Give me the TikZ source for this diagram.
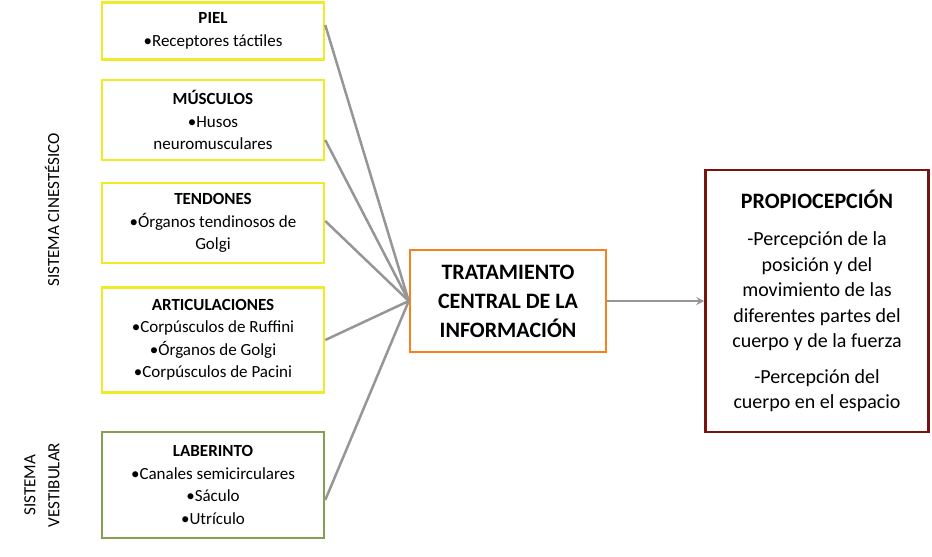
\documentclass[tikz,border=0pt]{standalone}
\usepackage{fontspec}
\setmainfont{Carlito}
\usetikzlibrary{positioning}
\definecolor{boxyellow}{RGB}{240,235,40}
\definecolor{boxgreen}{RGB}{130,160,80}
\definecolor{boxorange}{RGB}{245,130,30}
\definecolor{boxred}{RGB}{120,20,15}
\definecolor{linegray}{RGB}{150,150,150}
\begin{document}
\begin{tikzpicture}[x=1pt, y=-1pt, thick,
  sense box/.style={draw=boxyellow, line width=2.5pt, minimum width=222pt, align=center,
    font=\fontsize{17}{22.5}\selectfont, inner sep=0pt},
  link/.style={draw=linegray, line width=2.5pt}]
\useasboundingbox (0,0) rectangle (932,557);

\node[sense box, minimum height=57pt] (piel) at (213,31) {\textbf{PIEL}\\•Receptores táctiles};
\node[sense box, minimum height=80pt] (musc) at (213,120) {\textbf{MÚSCULOS}\\•Husos\\neuromusculares};
\node[sense box, minimum height=80pt] (tend) at (213,223) {\textbf{TENDONES}\\•Órganos tendinosos de\\Golgi};
\node[sense box, minimum height=105pt] (artic) at (213,340) {\textbf{ARTICULACIONES}\\•Corpúsculos de Ruffini\\•Órganos de Golgi\\•Corpúsculos de Pacini};
\node[sense box, draw=boxgreen, minimum height=106pt] (lab) at (213,485) {\textbf{LABERINTO}\\•Canales semicirculares\\•Sáculo\\•Utrículo};

\node[draw=boxorange, line width=2.5pt, minimum width=196pt, minimum height=102pt, align=center,
  font=\fontsize{22}{29}\selectfont\bfseries] (trat) at (508,301) {TRATAMIENTO\\CENTRAL DE LA\\INFORMACIÓN};

\node[draw=boxred, line width=2.5pt, minimum width=223pt, minimum height=262pt, align=center,
  font=\fontsize{20}{25.5}\selectfont] (prop) at (817,301)
  {\textbf{\fontsize{22}{25}\selectfont PROPIOCEPCIÓN}\\[12pt]-Percepción de la\\posición y del\\movimiento de las\\diferentes partes del\\cuerpo y de la fuerza\\[10pt]-Percepción del\\cuerpo en el espacio};

\node[rotate=90, font=\fontsize{17}{20}\selectfont] (cin) at (52,210) {SISTEMA CINESTÉSICO};
\node[rotate=90, align=center, font=\fontsize{17}{24}\selectfont] (vest) at (42,485) {SISTEMA\\VESTIBULAR};

\foreach \src/\dy in {piel/6, musc/-20, tend/2, artic/0, lab/-15}
  \draw[link] ([yshift=\dy pt]\src.east) -- (trat.west);
\draw[link, -stealth] (trat.east) -- (prop.west);
\end{tikzpicture}
\end{document}
